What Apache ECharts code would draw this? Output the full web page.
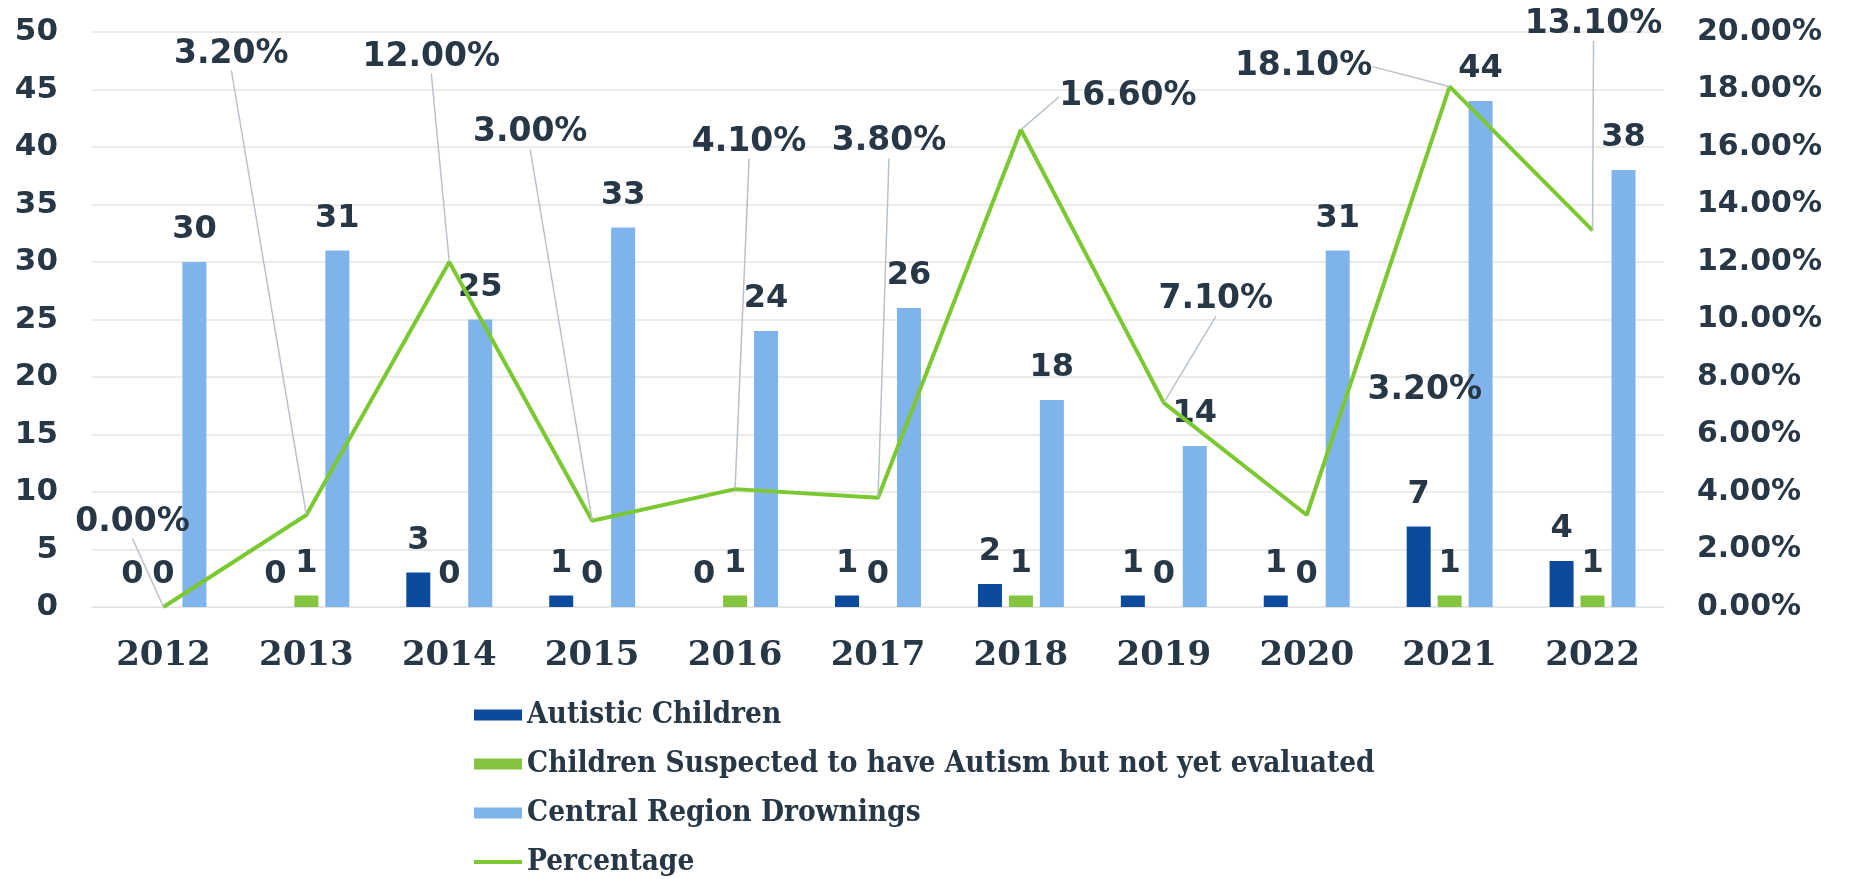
<!DOCTYPE html>
<html>
<head>
<meta charset="utf-8">
<title>Drownings and autism</title>
<script src="https://cdn.jsdelivr.net/npm/echarts@6/dist/echarts.min.js"></script>
<style>
	html, body { margin: 0; padding: 0; background: #fff; }
	#chart { width: 1849px; height: 879px; }
</style>
</head>
<body>
<div id="chart"></div>
<script>
var years = ['2012', '2013', '2014', '2015', '2016', '2017', '2018', '2019', '2020', '2021', '2022'];
var autistic = [0, 0, 3, 1, 0, 1, 2, 1, 1, 7, 4];
var suspected = [0, 1, 0, 0, 1, 0, 1, 0, 0, 1, 1];
var drownings = [30, 31, 25, 33, 24, 26, 18, 14, 31, 44, 38];
var percentage = [0, 3.2, 12.0, 3.0, 4.1, 3.8, 16.6, 7.1, 3.2, 18.1, 13.1];
var legendNames = ['Autistic Children', 'Children Suspected to have Autism but not yet evaluated', 'Central Region Drownings', 'Percentage'];

// where each percentage callout sits, relative to its point (px)
var calloutShift = [[-31, -85], [-75, -461], [-18, -205], [-62, -388], [14, -347], [11, -356],
	[107, -33], [52, -103], [118, -125], [-146, -20], [1, -206]];
// the 2020 callout has no visible leader line
var noLeader = [8];

var ink = '#273746';
var colors = ['#0b4a9d', '#84c441', '#7fb3ec', '#7cc832'];

function barLabel() {
	return {
		show: true,
		position: 'top',
		distance: 16,
		color: ink,
		fontFamily: 'DejaVu Sans',
		fontWeight: 'bold',
		fontSize: 32
	};
}

var pctData = percentage.map(function(v, i) {
	if (noLeader.indexOf(i) >= 0) {
		return { value: v, labelLine: { show: false } };
	}
	return v;
});

var chart = echarts.init(document.getElementById('chart'));
var option = {
	animation: false,
	backgroundColor: '#fff',
	grid: {
		left: 92,
		right: 185,
		top: 32,
		bottom: 272
	},
	legend: {
		orient: 'vertical',
		left: 474,
		top: 699,
		padding: 0,
		itemWidth: 48,
		itemHeight: 11,
		itemGap: 17,
		data: [
			{ name: legendNames[0], icon: 'rect' },
			{ name: legendNames[1], icon: 'rect' },
			{ name: legendNames[2], icon: 'rect' },
			{ name: legendNames[3], icon: 'path://M0,0 H48 V4 H0 Z' }
		],
		textStyle: {
			color: ink,
			fontFamily: 'DejaVu Serif Condensed, DejaVu Serif',
			fontWeight: 'bold',
			fontSize: 29.5,
			lineHeight: 32
		}
	},
	xAxis: [{
		type: 'category',
		data: years,
		boundaryGap: true,
		axisLine: { lineStyle: { color: '#e2e2e2' } },
		axisTick: { show: false },
		axisLabel: {
			margin: 32,
			color: ink,
			fontFamily: 'DejaVu Serif',
			fontWeight: 'bold',
			fontSize: 34
		}
	}],
	yAxis: [{
		type: 'value',
		min: 0,
		max: 50,
		interval: 5,
		axisLine: { show: false },
		axisTick: { show: false },
		splitLine: { lineStyle: { color: '#e4e4e4', width: 1.5 } },
		axisLabel: {
			margin: 34,
			color: ink,
			fontFamily: 'DejaVu Sans',
			fontWeight: 'bold',
			fontSize: 31
		}
	}, {
		type: 'value',
		min: 0,
		max: 20,
		interval: 2,
		axisLine: { show: false },
		axisTick: { show: false },
		splitLine: { show: false },
		axisLabel: {
			margin: 33,
			color: ink,
			fontFamily: 'DejaVu Sans',
			fontWeight: 'bold',
			fontSize: 30,
			formatter: function(v) {
				return v.toFixed(2) + '%';
			}
		}
	}],
	series: [{
		name: legendNames[0],
		type: 'bar',
		barWidth: 24,
		barGap: '29%',
		data: autistic,
		itemStyle: { color: colors[0] },
		label: barLabel()
	}, {
		name: legendNames[1],
		type: 'bar',
		barWidth: 24,
		barGap: '29%',
		data: suspected,
		itemStyle: { color: colors[1] },
		label: barLabel()
	}, {
		name: legendNames[2],
		type: 'bar',
		barWidth: 24,
		barGap: '29%',
		data: drownings,
		itemStyle: { color: colors[2] },
		label: barLabel()
	}, {
		name: legendNames[3],
		type: 'line',
		yAxisIndex: 1,
		data: pctData,
		symbol: 'circle',
		symbolSize: 1,
		showSymbol: true,
		itemStyle: { color: colors[3] },
		lineStyle: { color: colors[3], width: 4 },
		z: 5,
		label: {
			show: true,
			color: ink,
			fontFamily: 'DejaVu Sans',
			fontWeight: 'bold',
			fontSize: 33,
			formatter: function(p) {
				return p.value.toFixed(2) + '%';
			}
		},
		labelLine: {
			show: true,
			lineStyle: { color: '#b9c1c9', width: 1.5 }
		},
		labelLayout: function(params) {
			var s = calloutShift[params.dataIndex];
			var r = params.rect;
			return {
				x: r.x + r.width / 2 + s[0],
				y: r.y + r.height / 2 + s[1],
				align: 'center',
				verticalAlign: 'middle'
			};
		}
	}]
};
chart.setOption(option);
</script>
</body>
</html>
